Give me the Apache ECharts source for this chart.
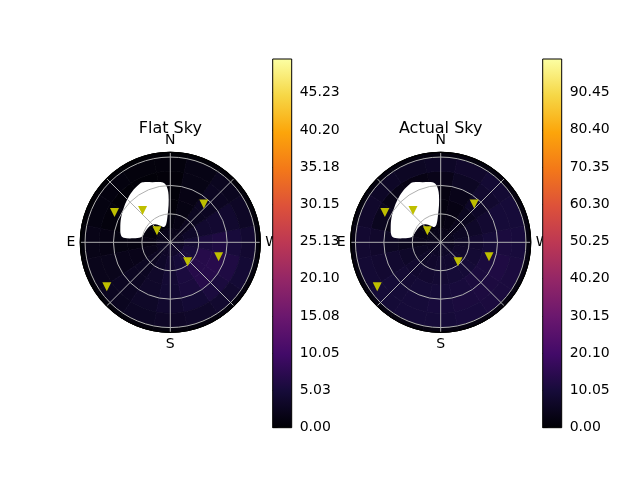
<!DOCTYPE html>
<html><head><meta charset="utf-8">
<script src="https://cdn.jsdelivr.net/npm/echarts@6/dist/echarts.min.js"></script>
<style>html,body{margin:0;padding:0;background:#fff}#c{width:640px;height:480px}</style>
</head><body><div id="c"></div>
<script>
// ---------------- data ----------------
const titles = ['Flat Sky', 'Actual Sky'];
const azCenters = [0, 22.5, 45, 67.5, 90, 112.5, 135, 157.5, 180, 202.5, 225, 247.5, 270, 292.5, 315, 337.5];
const rEdges = [0, 15, 30, 45, 60, 75, 90, 95];
// rows: azimuth bins, columns: radial bins
const flatSky = [
  [2.0, 1.0, 0.6, 0.5, 0.6, 0.8, 0.3],
  [2.0, 0.8, 0.4, 0.3, 0.5, 0.8, 0.3],
  [2.0, 0.8, 0.4, 0.3, 0.5, 1.0, 0.3],
  [2.2, 1.0, 0.6, 0.6, 0.8, 1.2, 0.4],
  [2.5, 1.5, 1.2, 1.2, 1.5, 1.8, 0.5],
  [2.8, 2.2, 2.0, 2.0, 2.2, 2.2, 0.6],
  [3.0, 2.8, 2.8, 2.8, 2.8, 2.6, 0.7],
  [3.3, 3.5, 3.6, 3.6, 3.4, 3.0, 0.8],
  [3.6, 4.2, 4.5, 4.4, 4.0, 3.3, 0.8],
  [3.8, 5.0, 5.6, 5.4, 4.6, 3.6, 0.9],
  [3.8, 5.5, 6.8, 6.8, 5.5, 4.0, 1.0],
  [3.6, 5.2, 6.8, 7.0, 6.0, 4.6, 1.0],
  [3.2, 4.5, 5.5, 6.0, 5.2, 4.2, 0.9],
  [2.8, 3.5, 4.0, 4.2, 4.0, 3.2, 0.8],
  [2.4, 2.4, 2.6, 2.8, 2.8, 2.5, 0.6],
  [2.2, 1.5, 1.4, 1.5, 1.6, 1.6, 0.5]
];
const actualSky = [
  [4.0, 2.5, 2.0, 2.5, 4.0, 6.5, 2.0],
  [4.0, 2.2, 1.5, 1.5, 3.0, 6.0, 2.0],
  [4.0, 2.5, 1.5, 1.5, 3.5, 6.5, 2.0],
  [4.5, 3.5, 3.0, 3.5, 5.0, 7.5, 2.0],
  [5.0, 4.5, 5.0, 6.0, 7.5, 8.5, 2.5],
  [5.5, 6.0, 7.0, 8.0, 8.5, 9.0, 2.5],
  [6.0, 7.0, 8.0, 9.0, 9.5, 9.5, 2.5],
  [6.5, 7.5, 8.5, 9.5, 10.0, 10.0, 2.5],
  [6.5, 8.0, 9.0, 10.0, 10.5, 10.0, 2.5],
  [6.5, 8.0, 9.5, 10.5, 11.0, 10.5, 2.5],
  [6.5, 8.0, 9.5, 11.0, 11.5, 11.0, 2.5],
  [6.0, 7.5, 9.0, 11.0, 12.0, 11.0, 2.5],
  [5.5, 7.0, 8.5, 10.0, 11.0, 10.5, 2.5],
  [5.0, 6.0, 7.0, 8.5, 10.0, 10.0, 2.5],
  [4.5, 4.5, 5.0, 6.5, 8.0, 9.0, 2.2],
  [4.0, 3.0, 3.0, 4.0, 6.0, 7.5, 2.0]
];
const flatMax = 49.78;
const actualMax = 99.5;
const flatTicks = [0, 5.03, 10.05, 15.08, 20.10, 25.13, 30.15, 35.18, 40.20, 45.23];
const actualTicks = [0, 10.05, 20.10, 30.15, 40.20, 50.25, 60.30, 70.35, 80.40, 90.45];
const markerAz = [61.9, 41.1, 49.2, 318.8, 221.6, 253.4, 125.0];
const markerR = [66.8, 44.5, 18.6, 53.7, 27.5, 53.2, 81.8];
// masked (white) region outline
const blobAz = [37.1, 26.9, 24.0, 16.7, 7.9, 4.9, 2.9, 2.1, 2.6, 5.6, 13.0, 22.0, 31.1, 39.8, 50.3, 60.3, 73.3, 80.3, 83.8, 84.4, 81.6, 74.4, 64.0, 53.9, 45.7];
const blobR = [67.0, 69.9, 69.4, 66.2, 64.0, 61.5, 56.4, 50.0, 39.4, 29.0, 19.5, 17.5, 20.5, 24.7, 27.5, 28.3, 29.4, 31.4, 39.0, 49.6, 52.7, 54.8, 57.9, 61.0, 63.9];
const compass = {0: 'N', 90: 'E', 180: 'S', 270: 'W'};

// ---------------- style ----------------
const inferno = ['#000004', '#160b39', '#420a68', '#6a176e', '#932667', '#bc3754', '#dd513a', '#f37819', '#fca50a', '#f6d746', '#fcffa4'];
const FONT = 'DejaVu Sans';
const centers = [[170.3, 242.3], [440.7, 242.3]];
const cbLeft = [272.7, 542.7];
const halfBin = 11.25;

const panels = [
  {grid: flatSky, max: flatMax, ticks: flatTicks},
  {grid: actualSky, max: actualMax, ticks: actualTicks}
];

function heatData(grid) {
  const out = [];
  grid.forEach((row, i) => {
    row.forEach((v, j) => {
      out.push([(rEdges[j] + rEdges[j + 1]) / 2, azCenters[i], v, rEdges[j], rEdges[j + 1]]);
    });
  });
  return out;
}

function renderCell(params, api) {
  const a = api.value(1), r0 = api.value(3), r1 = api.value(4);
  const n = 8, pts = [];
  for (let k = 0; k <= n; k++) pts.push(api.coord([r1, a - halfBin + 2 * halfBin * k / n]));
  for (let k = n; k >= 0; k--) pts.push(api.coord([r0, a - halfBin + 2 * halfBin * k / n]));
  const c = api.visual('color');
  return {type: 'polygon', shape: {points: pts}, style: {fill: c, stroke: c, lineWidth: 0.8}};
}

function renderBlob(params, api) {
  if (params.dataIndex !== 0) return null;
  const pts = blobAz.map((a, i) => api.coord([blobR[i], a]));
  return {type: 'polygon', shape: {points: pts, smooth: 0.35}, style: {fill: '#ffffff'}};
}

const polar = [], angleAxis = [], radiusAxis = [], grid = [], xAxis = [], yAxis = [], series = [], visualMap = [], graphic = [];

panels.forEach((p, k) => {
  polar.push({center: centers[k], radius: 90});
  angleAxis.push({
    polarIndex: k, type: 'value', min: 0, max: 360, interval: 45, startAngle: 90, clockwise: false, z: 5,
    axisLine: {show: true, lineStyle: {color: '#000', width: 1.2}},
    axisTick: {show: false},
    axisLabel: {margin: 5, fontSize: 14, color: '#000', fontFamily: FONT,
      formatter: v => (v < 360 && compass[v] !== undefined) ? compass[v] : ''},
    splitLine: {show: true, lineStyle: {color: '#b0b0b0', width: 1}}
  });
  radiusAxis.push({
    polarIndex: k, type: 'value', min: 0, max: 95, interval: 30, z: 5,
    axisLine: {show: false}, axisTick: {show: false}, axisLabel: {show: false},
    splitLine: {show: true, lineStyle: {color: ['#b0b0b0', '#b0b0b0', '#b0b0b0', '#b0b0b0', '#000'], width: 1}}
  });
  grid.push({left: cbLeft[k], top: 59, width: 19, height: 368.7, outerBoundsMode: 'none'});
  xAxis.push({gridIndex: k, type: 'value', min: 0, max: 1, show: false});
  yAxis.push({
    gridIndex: k, type: 'value', position: 'right', min: 0, max: p.max,
    axisLine: {show: false},
    axisTick: {show: true, length: 5, lineStyle: {color: '#000', width: 1}, customValues: p.ticks},
    axisLabel: {customValues: p.ticks, formatter: v => v.toFixed(2), margin: 8, fontSize: 14, color: '#000', fontFamily: FONT},
    splitLine: {show: false}
  });
  const base = series.length;
  series.push({
    type: 'custom', coordinateSystem: 'polar', polarIndex: k, z: 1, silent: true,
    data: heatData(p.grid), renderItem: renderCell
  });
  series.push({
    type: 'custom', coordinateSystem: 'polar', polarIndex: k, z: 2, silent: true,
    data: blobAz.map((a, i) => [blobR[i], a]), renderItem: renderBlob
  });
  series.push({
    type: 'scatter', coordinateSystem: 'polar', polarIndex: k, z: 10, silent: true,
    symbol: 'triangle', symbolRotate: 180, symbolSize: 9,
    itemStyle: {color: '#bfbf00', opacity: 1},
    data: markerAz.map((a, i) => [markerR[i], a])
  });
  series.push({
    type: 'custom', coordinateSystem: 'cartesian2d', xAxisIndex: k, yAxisIndex: k, z: 20, silent: true,
    data: [[0, 0, 1, p.max]],
    renderItem: (params, api) => {
      const p0 = api.coord([api.value(0), api.value(1)]);
      const p1 = api.coord([api.value(2), api.value(3)]);
      return {
        type: 'rect',
        shape: {x: p0[0], y: p1[1], width: p1[0] - p0[0], height: p0[1] - p1[1]},
        style: {
          fill: new echarts.graphic.LinearGradient(0, 1, 0, 0,
            inferno.map((c, i) => ({offset: i / (inferno.length - 1), color: c}))),
          stroke: '#000', lineWidth: 1
        }
      };
    }
  });
  visualMap.push({
    type: 'continuous', show: false, seriesIndex: base, dimension: 2,
    min: 0, max: p.max, inRange: {color: inferno}
  });
  graphic.push({
    type: 'text', x: centers[k][0], y: 129, z: 30,
    style: {text: titles[k], font: '16px "DejaVu Sans"', fill: '#000', align: 'center', verticalAlign: 'middle'}
  });
});

const chart = echarts.init(document.getElementById('c'), null, {renderer: 'canvas'});
chart.setOption({
  animation: false,
  backgroundColor: '#fff',
  polar, angleAxis, radiusAxis, grid, xAxis, yAxis, visualMap, series, graphic
});
</script>
</body></html>
